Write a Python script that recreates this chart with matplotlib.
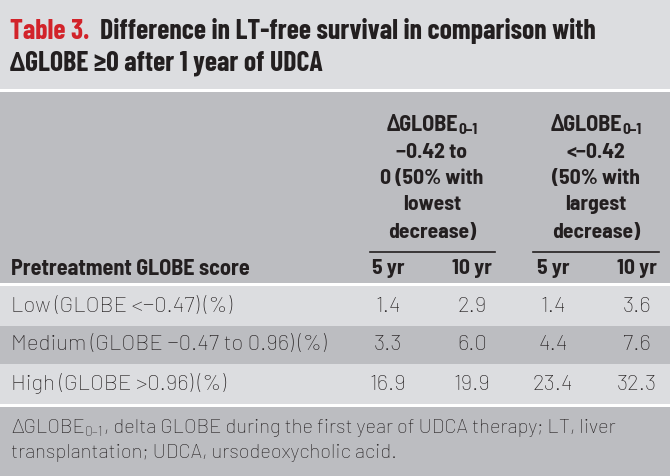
import matplotlib.pyplot as plt
from matplotlib.patches import Rectangle

FONT_TITOLO = ['Barlow Condensed', 'DejaVu Sans']
FONT = ['Barlow Semi Condensed', 'DejaVu Sans']
FONT_CORPO = ['Barlow', 'Barlow Semi Condensed', 'DejaVu Sans']
plt.rcParams['font.family'] = FONT

# Dati della tabella
titolo_rosso = "Table 3."
titolo_1 = "Difference in LT-free survival in comparison with"
titolo_2 = "\u0394GLOBE \u22650 after 1 year of UDCA"
righe = ["Low (GLOBE <\u22120.47) (%)",
         "Medium (GLOBE \u22120.47 to 0.96) (%)",
         "High (GLOBE >0.96) (%)"]
gruppo1 = ["\u22120.42 to", "0 (50% with", "lowest", "decrease)"]
gruppo2 = ["<\u22120.42", "(50% with", "largest", "decrease)"]
anni = ["5 yr", "10 yr", "5 yr", "10 yr"]
g1_5yr = [1.4, 3.3, 16.9]
g1_10yr = [2.9, 6.0, 19.9]
g2_5yr = [1.4, 4.4, 23.4]
g2_10yr = [3.6, 7.6, 32.3]
nota_1 = ", delta GLOBE during the first year of UDCA therapy; LT, liver"
nota_2 = "transplantation; UDCA, ursodeoxycholic acid."

chiaro = "#dcdde0"
scuro = "#bcbdc1"
testo = "#231f20"
rosso = "#d2232a"

fig = plt.figure(figsize=(6.7, 4.76), dpi=100)
ax = fig.add_axes([0, 0, 1, 1])
ax.set_xlim(0, 670)
ax.set_ylim(476, 0)
ax.axis("off")
renderer = fig.canvas.get_renderer()


def larghezza(t):
    bb = t.get_window_extent(renderer)
    return bb.width


def pezzi(x, y, lista, ha="left"):
    # lista di (testo, size, weight, dy, family); y = baseline
    objs = []
    for s, size, w, dy, fam in lista:
        objs.append(ax.text(0, y + dy, s, fontsize=size, fontweight=w, family=fam,
                            color=testo, va="baseline"))
    larg = [larghezza(o) for o in objs]
    tot = sum(larg)
    x0 = x - tot / 2 if ha == "center" else x
    for o, l in zip(objs, larg):
        o.set_x(x0)
        x0 += l
    return objs


# sfondi (y0, y1, colore)
fasce = [(0, 89, chiaro), (92, 283, scuro), (286, 326, chiaro),
         (326, 364, scuro), (364, 404, chiaro), (407, 476, scuro)]
for y0, y1, c in fasce:
    ax.add_patch(Rectangle((0, y0), 670, y1 - y0, color=c, lw=0))

# titolo
tt = pezzi(10, 39, [(titolo_rosso, 20, "bold", 0, FONT_TITOLO),
                    ("  " + titolo_1, 20, "bold", 0, FONT_TITOLO)])
tt[0].set_color(rosso)
ax.text(10, 71, titolo_2, fontsize=20, fontweight="bold", family=FONT_TITOLO,
        color=testo, va="baseline")

# intestazione
col_x = [388, 472, 553, 637]
centri_gruppo = [432, 596]
y_header = [152, 178, 205, 232]
for cx, gruppo in zip(centri_gruppo, [gruppo1, gruppo2]):
    pezzi(cx, 131, [("\u0394GLOBE", 16, "bold", 0, FONT),
                    ("0\u20131", 11, "bold", 3.5, FONT)], ha="center")
    for y, s in zip(y_header, gruppo):
        ax.text(cx, y, s, ha="center", va="center", fontsize=15.5,
                fontweight="bold", color=testo)
ax.plot([370, 495], [252, 252], color=testo, lw=1.2)
ax.plot([533, 659], [252, 252], color=testo, lw=1.2)
ax.text(11, 269, "Pretreatment GLOBE score", fontsize=16, fontweight="bold",
        va="center", color=testo)
for x, s in zip(col_x, anni):
    ax.text(x, 269, s, ha="center", va="center", fontsize=15.5,
            fontweight="bold", color=testo)

# righe di dati
y_righe = [306, 345, 384]
for i, y in enumerate(y_righe):
    ax.text(11, y, righe[i], va="center", fontsize=16, fontweight="light",
            family=FONT_CORPO, color=testo)
    for x, serie in zip(col_x, [g1_5yr, g1_10yr, g2_5yr, g2_10yr]):
        ax.text(x, y, f"{serie[i]:.1f}", ha="center", va="center",
                fontsize=16, fontweight="light", family=FONT_CORPO, color=testo)

# nota
pezzi(11, 433, [("\u0394GLOBE", 14.5, "light", 0, FONT_CORPO),
                ("0\u20131", 10, "light", 3, FONT_CORPO),
                (nota_1, 14.5, "light", 0, FONT_CORPO)])
ax.text(11, 458, nota_2, va="baseline", fontsize=14.5, fontweight="light",
        family=FONT_CORPO, color=testo)

fig.savefig("out.png", dpi=100)
